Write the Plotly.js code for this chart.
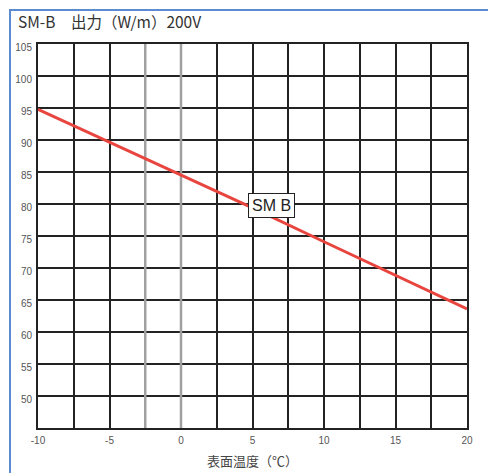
<!DOCTYPE html>
<html>
<head>
<meta charset="utf-8">
<script src="https://cdn.plot.ly/plotly-3.0.1.min.js"></script>
<style>
  html, body { margin: 0; padding: 0; background: #fff; }
  #chart { width: 488px; height: 473px; position: absolute; left: 0; top: 0; }
  #frame { position: absolute; left: 9px; top: 9px; right: 0; bottom: 0;
           border-left: 2px solid #5b8bd0; border-top: 2px solid #5b8bd0; pointer-events: none; }
</style>
</head>
<body>
<div id="chart"></div>
<div id="frame"></div>
<script>
// Data
const temperature = [-10, -5, 0, 5, 10, 15, 20];
const outputSMB = [94.8, 89.7, 84.6, 79.4, 74.1, 68.9, 63.6];
const xTicks = [-10, -5, 0, 5, 10, 15, 20];
const yTicks = [50, 55, 60, 65, 70, 75, 80, 85, 90, 95, 100, 105];
const yRange = [45, 105];
const grayGridX = [-2.5, 0];
const seriesLabel = 'SM B';
const labelPos = {x: 6.35, y: 79.8};
const chartTitle = 'SM-B　出力（W/m）200V';
const xTitle = '表面温度（℃）';

// gray highlighted grid lines (drawn under the data line)
const grayX = [], grayY = [];
grayGridX.forEach(v => { grayX.push(v, v, null); grayY.push(yRange[0], yRange[1], null); });
const grayTrace = {
  x: grayX, y: grayY, mode: 'lines',
  line: {color: '#a0a0a0', width: 2.5}, hoverinfo: 'skip', cliponaxis: false
};

const trace = {
  x: temperature,
  y: outputSMB,
  mode: 'lines',
  line: {color: '#e8453f', width: 3},
  hoverinfo: 'skip'
};

const layout = {
  width: 488, height: 473,
  margin: {l: 38, r: 21, t: 44, b: 45},
  paper_bgcolor: '#ffffff',
  plot_bgcolor: '#ffffff',
  showlegend: false,
  font: {family: 'Liberation Sans, Arial, sans-serif', color: '#444'},
  title: {
    text: chartTitle,
    font: {family: 'Noto Sans CJK JP, sans-serif', size: 15.5, color: '#333'},
    x: 0, xref: 'container', xanchor: 'left', y: 1, yref: 'container',
    yanchor: 'top', pad: {l: 18, t: 17}
  },
  xaxis: {
    range: [-10, 20],
    tickvals: xTicks,
    ticktext: xTicks.map(String),
    tickfont: {size: 10, color: '#555'},
    showgrid: true, gridcolor: '#222', gridwidth: 2,
    minor: {dtick: 2.5, tick0: 0, showgrid: true, gridcolor: '#222', gridwidth: 2},
    showline: true, linecolor: '#222', linewidth: 2, mirror: true,
    ticks: '', zeroline: false, fixedrange: true,
    ticklabelstandoff: 2,
    title: {text: xTitle, font: {family: 'Noto Sans CJK JP, sans-serif', size: 13, color: '#444'}, standoff: 12}
  },
  yaxis: {
    range: yRange,
    tickvals: yTicks,
    ticktext: yTicks.map(String),
    tickfont: {size: 10, color: '#555'},
    showgrid: true, gridcolor: '#222', gridwidth: 2,
    showline: true, linecolor: '#222', linewidth: 2, mirror: true,
    ticks: '', zeroline: false, fixedrange: true,
    ticklabelstandoff: 2, ticklabelshift: 3
  },
  annotations: [{
    x: labelPos.x, y: labelPos.y, xref: 'x', yref: 'y',
    text: seriesLabel, showarrow: false,
    font: {family: 'Liberation Sans, Arial, sans-serif', size: 16, color: '#222'},
    bgcolor: '#ffffff', bordercolor: '#222', borderwidth: 1, borderpad: 3
  }]
};

Plotly.newPlot('chart', [grayTrace, trace], layout, {displayModeBar: false, staticPlot: true});
</script>
</body>
</html>
